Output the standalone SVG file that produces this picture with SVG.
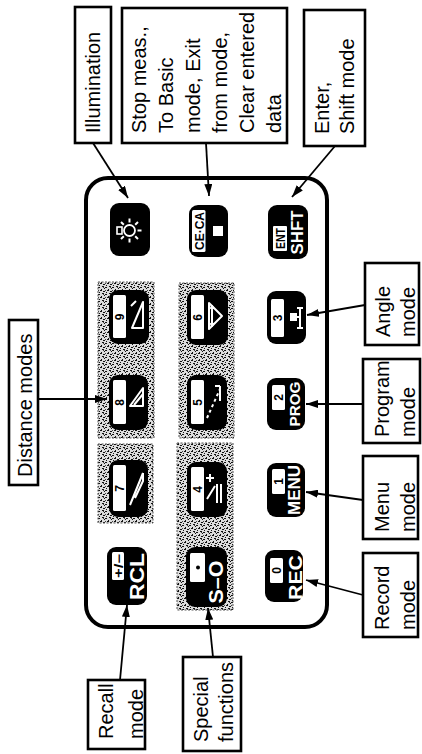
<svg xmlns="http://www.w3.org/2000/svg" width="422" height="754" viewBox="0 0 422 754">
<style>
.box{fill:#fff;stroke:#000;stroke-width:2.6}
.lbl{font-family:"Liberation Sans",Arial,sans-serif;font-size:20px;fill:#000}
.key{fill:#000}
.lab{fill:#fff}
.num{font-family:"Liberation Sans",Arial,sans-serif;font-size:12px;font-weight:bold;fill:#000;text-anchor:middle}
.kt{font-family:"Liberation Sans",Arial,sans-serif;font-weight:bold;fill:#fff;text-anchor:middle}
.sym{fill:none;stroke:#fff;stroke-width:2;stroke-linejoin:round}
.conn{fill:none;stroke:#000;stroke-width:1.8}
.patch{fill:url(#speck);stroke:#555;stroke-width:1;stroke-dasharray:2,1.5}
</style>
<defs>
<marker id="ah" markerWidth="12" markerHeight="8" refX="12" refY="4" orient="auto" markerUnits="userSpaceOnUse">
<path d="M0,0 L12,4 L0,8 Z" fill="#000"/>
</marker>
<pattern id="speck" width="7" height="7" patternUnits="userSpaceOnUse">
<rect width="7" height="7" fill="#dcdcdc"/>
<rect x="0" y="0" width="2" height="1" fill="#111"/>
<rect x="3" y="2" width="1" height="2" fill="#111"/>
<rect x="5" y="4" width="2" height="1" fill="#111"/>
<rect x="1" y="5" width="1" height="1" fill="#111"/>
<rect x="4" y="6" width="2" height="1" fill="#111"/>
<rect x="6" y="1" width="1" height="1" fill="#111"/>
<rect x="2" y="3" width="1" height="1" fill="#111"/>
<rect x="0" y="3" width="1" height="1" fill="#444"/>
<rect x="5" y="0" width="1" height="1" fill="#444"/>
</pattern>
</defs>

<!-- keypad body -->
<g id="keypad">
<rect x="86" y="178" width="241" height="449" rx="22" fill="#fff" stroke="#000" stroke-width="4"/>
<rect class="patch" x="98" y="282" width="56" height="156"/>
<rect class="patch" x="98" y="444" width="55" height="79"/>
<rect class="patch" x="179" y="283" width="55" height="155"/>
<rect class="patch" x="177" y="443" width="56" height="167"/>
</g>

<!-- keys -->
<g id="key-illum" transform="translate(110,203)">
<rect class="key" width="40" height="53" rx="9"/>
<circle cx="19.5" cy="27.5" r="5.5" fill="none" stroke="#fff" stroke-width="1.8"/>
<rect x="7" y="24" width="5" height="7" fill="none" stroke="#fff" stroke-width="1.6"/>
<path class="sym" stroke-width="1.6" d="M19.5,19.5 V15.5 M25.2,21.8 L28,19 M27.5,27.5 H31.5 M25.2,33.2 L28,36 M19.5,35.5 V39.5 M13.8,33.2 L11,36 M13.8,21.8 L11,19"/>
</g>

<g id="key-ceca" transform="translate(189,205)">
<rect class="key" width="39" height="52" rx="9"/>
<rect class="lab" x="3" y="5" width="13.5" height="42" rx="1.5"/>
<text class="num" font-size="12" transform="translate(14.5,26) rotate(-90)" textLength="38" lengthAdjust="spacingAndGlyphs">CE·CA</text>
<rect x="24" y="21" width="10" height="10" fill="#fff"/>
</g>

<g id="key-ent" transform="translate(268,205)">
<rect class="key" width="40" height="54" rx="9"/>
<rect class="lab" x="5" y="21" width="14" height="25" rx="1"/>
<text class="num" font-size="13" transform="translate(17,33.5) rotate(-90)" textLength="21" lengthAdjust="spacingAndGlyphs">ENT</text>
<text class="kt" font-size="16" transform="translate(35,27.5) rotate(-90)" textLength="44" lengthAdjust="spacingAndGlyphs">SHFT</text>
</g>

<g id="key-9" transform="translate(109,290)">
<rect class="key" width="40" height="54" rx="9"/>
<rect class="lab" x="4" y="5" width="13" height="43" rx="1.5"/>
<text class="num" transform="translate(14.5,27) rotate(-90)">9</text>
<path class="sym" d="M23,38 L34,12 L34,38 Z M22,16 L27,11"/>
</g>

<g id="key-6" transform="translate(187,290)">
<rect class="key" width="41" height="55" rx="9"/>
<rect class="lab" x="4" y="5" width="13" height="44" rx="1.5"/>
<text class="num" transform="translate(14.5,27.5) rotate(-90)">6</text>
<path class="sym" d="M22,13 L35,26 L22,39 Z"/>
<path class="sym" stroke-width="1.4" d="M25,17 V35 M23.5,19 L25,16 L26.5,19 M23.5,33 L25,36 L26.5,33"/>
</g>

<g id="key-3" transform="translate(267,291)">
<rect class="key" width="39" height="53" rx="9"/>
<rect class="lab" x="4" y="8" width="13" height="38" rx="1.5"/>
<text class="num" transform="translate(14.5,27) rotate(-90)">3</text>
<rect x="23" y="22" width="7" height="8" fill="#fff"/>
<path class="sym" stroke-width="1.6" d="M33,16 V38 M30,17 H36 M30,37 H36 M30,26 H33"/>
</g>

<g id="key-8" transform="translate(109,375)">
<rect class="key" width="39" height="55" rx="9"/>
<rect class="lab" x="4" y="5" width="13" height="44" rx="1.5"/>
<text class="num" transform="translate(14.5,27.5) rotate(-90)">8</text>
<path class="sym" d="M21,31 L34,13 L34,31 Z M25,30 L34,19"/>
</g>

<g id="key-5" transform="translate(187,375)">
<rect class="key" width="40" height="55" rx="9"/>
<rect class="lab" x="4" y="5" width="13" height="44" rx="1.5"/>
<text class="num" transform="translate(14.5,27.5) rotate(-90)">5</text>
<path class="sym" stroke-dasharray="3,3" d="M20,43 L33,14"/>
<path class="sym" d="M33,11 V26 M28,11 H33"/>
</g>

<g id="key-2" transform="translate(267,378)">
<rect class="key" width="38" height="52" rx="9"/>
<rect class="lab" x="5" y="7" width="13" height="25" rx="1.5"/>
<text class="num" transform="translate(15.5,19.5) rotate(-90)">2</text>
<text class="kt" font-size="15" transform="translate(33,26) rotate(-90)" textLength="45" lengthAdjust="spacingAndGlyphs">PROG</text>
</g>

<g id="key-7" transform="translate(109,460)">
<rect class="key" width="39" height="57" rx="9"/>
<rect class="lab" x="4" y="5" width="13" height="46" rx="1.5"/>
<text class="num" transform="translate(14.5,28.5) rotate(-90)">7</text>
<path class="sym" d="M21,45 L34,13 M26,38 L34,21 L34,13"/>
</g>

<g id="key-4" transform="translate(187,462)">
<rect class="key" width="40" height="55" rx="9"/>
<rect class="lab" x="4" y="5" width="13" height="44" rx="1.5"/>
<text class="num" transform="translate(14.5,27.5) rotate(-90)">4</text>
<path class="sym" d="M20,37 L28,24 M30,22 V41 M34,22 V41 M23,12 V20 M19,16 H27"/>
</g>

<g id="key-1" transform="translate(267,463)">
<rect class="key" width="38" height="54" rx="9"/>
<rect class="lab" x="5" y="6" width="13" height="25" rx="1.5"/>
<text class="num" transform="translate(15.5,18.5) rotate(-90)">1</text>
<text class="kt" font-size="16" transform="translate(33,27) rotate(-90)" textLength="50" lengthAdjust="spacingAndGlyphs">MENU</text>
</g>

<g id="key-rcl" transform="translate(107,547)">
<rect class="key" width="40" height="58" rx="9"/>
<rect class="lab" x="5" y="5" width="12" height="28" rx="1.5"/>
<text class="num" font-size="12" transform="translate(15.5,19) rotate(-90)" textLength="24" lengthAdjust="spacingAndGlyphs">+/−</text>
<text class="kt" font-size="21" transform="translate(36.5,29.5) rotate(-90)" textLength="47" lengthAdjust="spacingAndGlyphs">RCL</text>
</g>

<g id="key-so" transform="translate(186,547)">
<rect class="key" width="41" height="60" rx="9"/>
<rect class="lab" x="4" y="6" width="15" height="29" rx="1.5"/>
<circle cx="12" cy="20.5" r="2" fill="#000"/>
<text class="kt" font-size="21" transform="translate(37,35) rotate(-90)" textLength="43" lengthAdjust="spacingAndGlyphs">S–O</text>
</g>

<g id="key-rec" transform="translate(265,550)">
<rect class="key" width="38" height="52" rx="9"/>
<rect class="lab" x="5" y="8" width="13" height="25" rx="1.5"/>
<text class="num" transform="translate(15.5,20.5) rotate(-90)">0</text>
<text class="kt" font-size="19" transform="translate(37,27.5) rotate(-90)" textLength="45" lengthAdjust="spacingAndGlyphs">REC</text>
</g>

<!-- label boxes -->
<g id="lbl-illumination">
<rect class="box" x="75" y="7" width="36" height="136"/>
<text class="lbl" transform="translate(99.5,133) rotate(-90)">Illumination</text>
</g>
<g id="lbl-stop">
<rect class="box" x="122" y="8" width="165" height="135"/>
<text class="lbl" transform="translate(146,133) rotate(-90)">Stop meas.,</text>
<text class="lbl" transform="translate(173,133) rotate(-90)">To Basic</text>
<text class="lbl" transform="translate(200,133) rotate(-90)">mode, Exit</text>
<text class="lbl" transform="translate(227,133) rotate(-90)">from mode,</text>
<text class="lbl" transform="translate(254,133) rotate(-90)">Clear entered</text>
<text class="lbl" transform="translate(281,133) rotate(-90)">data</text>
</g>
<g id="lbl-enter">
<rect class="box" x="304" y="10" width="61" height="136"/>
<text class="lbl" transform="translate(329,134) rotate(-90)">Enter,</text>
<text class="lbl" transform="translate(354,134) rotate(-90)">Shift mode</text>
</g>
<g id="lbl-distance">
<rect class="box" x="9" y="320" width="29" height="165"/>
<text class="lbl" transform="translate(31.5,477) rotate(-90)">Distance modes</text>
</g>
<g id="lbl-angle">
<rect class="box" x="365" y="263" width="54" height="82"/>
<text class="lbl" transform="translate(389.5,337) rotate(-90)">Angle</text>
<text class="lbl" transform="translate(414.5,337) rotate(-90)">mode</text>
</g>
<g id="lbl-program">
<rect class="box" x="363" y="359" width="57" height="84"/>
<text class="lbl" transform="translate(389,437) rotate(-90)">Program</text>
<text class="lbl" transform="translate(414.5,437) rotate(-90)">mode</text>
</g>
<g id="lbl-menu">
<rect class="box" x="363" y="456" width="55" height="83"/>
<text class="lbl" transform="translate(388.5,532) rotate(-90)">Menu</text>
<text class="lbl" transform="translate(414.5,532) rotate(-90)">mode</text>
</g>
<g id="lbl-record">
<rect class="box" x="363" y="553" width="55" height="84"/>
<text class="lbl" transform="translate(388.5,630) rotate(-90)">Record</text>
<text class="lbl" transform="translate(414.5,630) rotate(-90)">mode</text>
</g>
<g id="lbl-recall">
<rect class="box" x="88" y="680" width="57" height="69"/>
<text class="lbl" transform="translate(112.5,739) rotate(-90)">Recall</text>
<text class="lbl" transform="translate(142.5,739) rotate(-90)">mode</text>
</g>
<g id="lbl-special">
<rect class="box" x="183" y="657" width="58" height="94"/>
<text class="lbl" transform="translate(207.5,742) rotate(-90)">Special</text>
<text class="lbl" transform="translate(233,742) rotate(-90)">functions</text>
</g>

<!-- connectors -->
<g id="connectors">
<path class="conn" marker-end="url(#ah)" d="M93,143 L128,198"/>
<path class="conn" marker-end="url(#ah)" d="M206,143 L209,196"/>
<path class="conn" marker-end="url(#ah)" d="M335,146 L292,197"/>
<path class="conn" marker-end="url(#ah)" d="M38,399 L107,399"/>
<path class="conn" marker-end="url(#ah)" d="M365,305 L307,315"/>
<path class="conn" marker-end="url(#ah)" d="M363,404 L306,404"/>
<path class="conn" marker-end="url(#ah)" d="M363,500 L306,492"/>
<path class="conn" marker-end="url(#ah)" d="M363,595 L306,580"/>
<path class="conn" marker-end="url(#ah)" d="M120,680 L127,605"/>
<path class="conn" marker-end="url(#ah)" d="M213,657 L208,608"/>
</g>
</svg>
